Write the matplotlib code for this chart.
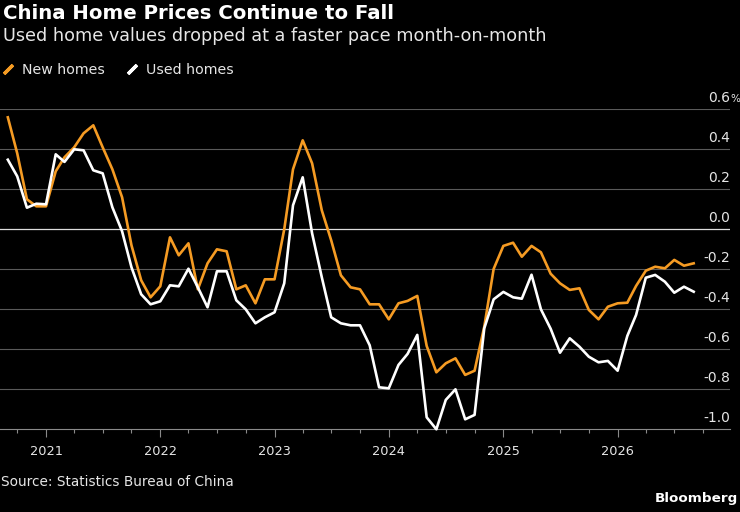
import matplotlib
matplotlib.use("Agg")
import matplotlib.pyplot as plt
import matplotlib.dates as mdates
import matplotlib.transforms as mtransforms
from matplotlib.lines import Line2D
import pandas as pd

# monthly change in home prices, Sep 2020 .. Sep 2026
months = pd.date_range("2020-09-01", periods=73, freq="MS")

new_homes = [
    0.56, 0.38, 0.15, 0.115, 0.115, 0.29, 0.36, 0.41, 0.48, 0.52,
    0.41, 0.30, 0.16, -0.08, -0.255, -0.34, -0.285, -0.04, -0.13, -0.07,
    -0.30, -0.17, -0.10, -0.11, -0.30, -0.28, -0.37, -0.25, -0.25, 0.0,
    0.30, 0.445, 0.33, 0.095, -0.055, -0.23, -0.29, -0.30, -0.375, -0.375,
    -0.45, -0.37, -0.358, -0.333, -0.583, -0.715, -0.67, -0.645, -0.728, -0.707,
    -0.487, -0.198, -0.083, -0.067, -0.137, -0.083, -0.115, -0.222, -0.27, -0.303,
    -0.295, -0.403, -0.45, -0.387, -0.37, -0.367, -0.283, -0.207, -0.187, -0.195,
    -0.153, -0.182, -0.17,
]
used_homes = [
    0.348, 0.265, 0.108, 0.128, 0.125, 0.375, 0.337, 0.40, 0.395, 0.295,
    0.28, 0.11, -0.01, -0.19, -0.325, -0.375, -0.36, -0.28, -0.285, -0.197,
    -0.29, -0.39, -0.21, -0.21, -0.355, -0.40, -0.47, -0.44, -0.415, -0.27,
    0.12, 0.26, -0.02, -0.24, -0.44, -0.47, -0.48, -0.48, -0.58, -0.79,
    -0.795, -0.678, -0.623, -0.528, -0.94, -1.0, -0.853, -0.80, -0.95, -0.928,
    -0.495, -0.35, -0.313, -0.34, -0.347, -0.227, -0.40, -0.497, -0.617, -0.545,
    -0.587, -0.637, -0.665, -0.658, -0.707, -0.533, -0.428, -0.242, -0.228, -0.262,
    -0.317, -0.287, -0.312,
]

yticks = [-1.0, -0.8, -0.6, -0.4, -0.2, 0.0, 0.2, 0.4, 0.6]
ytick_labels = ["-1.0", "-0.8", "-0.6", "-0.4", "-0.2", "0.0", "0.2", "0.4", "0.6"]

ORANGE = "#F59B23"
WHITE = "#FFFFFF"
BG = "#000000"
GRID = "#5a5a5a"
TXT = "#e6e6e6"

plt.rcParams["font.family"] = ["DejaVu Sans"]

fig = plt.figure(figsize=(7.4, 5.12), dpi=100, facecolor=BG)
ax = fig.add_axes([0.0, 0.1615, 730 / 740, 0.625], facecolor=BG)

ax.plot(months, new_homes, color=ORANGE, lw=1.9, clip_on=False, zorder=3)
ax.plot(months, used_homes, color=WHITE, lw=1.9, clip_on=False, zorder=4)

ax.set_xlim(pd.Timestamp("2020-08-07"), pd.Timestamp("2026-12-26"))
ax.set_ylim(-1.0, 0.6)

# horizontal grid, zero line brighter
for v in yticks[1:]:
    ax.axhline(v, color="#dddddd" if v == 0 else GRID, lw=0.9 if v == 0 else 0.8, zorder=1)

for side in ("top", "left", "right"):
    ax.spines[side].set_visible(False)
ax.spines["bottom"].set_color("#8a8a8a")
ax.spines["bottom"].set_linewidth(0.8)

ax.set_yticks([])
ax.xaxis.set_major_locator(mdates.YearLocator())
ax.xaxis.set_major_formatter(mdates.DateFormatter("%Y"))
ax.xaxis.set_minor_locator(mdates.MonthLocator(bymonth=[1, 4, 7, 10]))
ax.tick_params(axis="x", which="major", length=6, width=0.8, color="#8a8a8a",
               labelcolor=TXT, labelsize=9.3, pad=5)
ax.tick_params(axis="x", which="minor", length=3, width=0.8, color="#8a8a8a")

# y labels on the right, sitting above the grid lines
trans = mtransforms.offset_copy(ax.get_yaxis_transform(), fig=fig, x=0, y=7, units="dots")
for v, lab in zip(yticks, ytick_labels):
    ax.text(1.0, v, lab, transform=trans, ha="right", va="baseline",
            color=TXT, fontsize=10, clip_on=False)
ax.text(1.0, yticks[-1], "%", transform=trans, ha="left", va="baseline",
        color=TXT, fontsize=7.5, clip_on=False)

fig.text(0.004, 0.993, "China Home Prices Continue to Fall", color=WHITE,
         fontsize=14.2, fontweight="bold", ha="left", va="top")
fig.text(0.004, 0.947, "Used home values dropped at a faster pace month-on-month",
         color=TXT, fontsize=12.7, ha="left", va="top")

handles = [
    Line2D([], [], linestyle="none", marker=(2, 2, -45), markersize=9,
           markeredgewidth=2.4, color=ORANGE),
    Line2D([], [], linestyle="none", marker=(2, 2, -45), markersize=9,
           markeredgewidth=2.4, color=WHITE),
]
fig.legend(handles, ["New homes", "Used homes"], loc="center left",
           bbox_to_anchor=(-0.005, 0.863), ncol=2, frameon=False,
           labelcolor=TXT, fontsize=10.2, handlelength=0.8, handletextpad=0.6,
           columnspacing=1.5, borderaxespad=0)

fig.text(0.002, 0.058, "Source: Statistics Bureau of China", color=TXT,
         fontsize=9.8, ha="left", va="center")
fig.text(0.997, 0.027, "Bloomberg", color=WHITE, fontsize=9.7,
         fontweight="bold", ha="right", va="center")

fig.savefig("out.png", dpi=100, facecolor=BG)
